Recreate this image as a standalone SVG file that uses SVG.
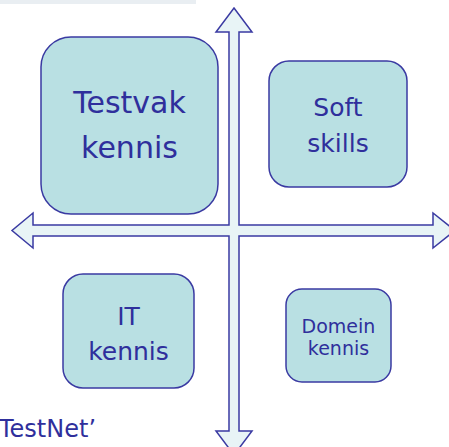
<svg xmlns="http://www.w3.org/2000/svg" width="449" height="447" viewBox="0 0 449 447">
<style>
.box{fill:#b9e0e3;stroke:#3a3aa2;stroke-width:1.5}
.arr{fill:#e8f4f6;stroke:#3a3aa2;stroke-width:1.5;stroke-linejoin:miter}
text{font-family:"DejaVu Sans","Liberation Sans",sans-serif;fill:#2f2f9c;text-anchor:middle}
</style>
<rect width="449" height="447" fill="#ffffff"/>
<rect x="0" y="0" width="196" height="4" fill="#e9eef2"/>
<g id="connectors">
<path class="arr" d="M234,8 L252,32 L239,32 L239,225 L433,225 L433,213 L455,230.5 L433,248 L433,236 L239,236 L239,431 L252,431 L234,455 L216,431 L229,431 L229,236 L33,236 L33,248 L12,230.5 L33,213 L33,225 L229,225 L229,32 L216,32 Z"/>
</g>
<g id="testvak">
<rect class="box" x="41" y="37" width="177" height="177" rx="30"/>
<text x="129.5" y="113" font-size="30">Testvak</text>
<text x="129.5" y="158" font-size="30">kennis</text>
</g>
<g id="softskills">
<rect class="box" x="269" y="61" width="138" height="126" rx="20"/>
<text x="338" y="116" font-size="25">Soft</text>
<text x="338" y="152" font-size="25">skills</text>
</g>
<g id="itkennis">
<rect class="box" x="63" y="274" width="131" height="114" rx="20"/>
<text x="128.5" y="325" font-size="25">IT</text>
<text x="128.5" y="360" font-size="25">kennis</text>
</g>
<g id="domeinkennis">
<rect class="box" x="286" y="289" width="105" height="93" rx="16"/>
<text x="338.5" y="333" font-size="19">Domein</text>
<text x="338.5" y="355" font-size="19">kennis</text>
</g>
<text x="-1" y="437" font-size="24" style="text-anchor:start">TestNet’</text>
</svg>
